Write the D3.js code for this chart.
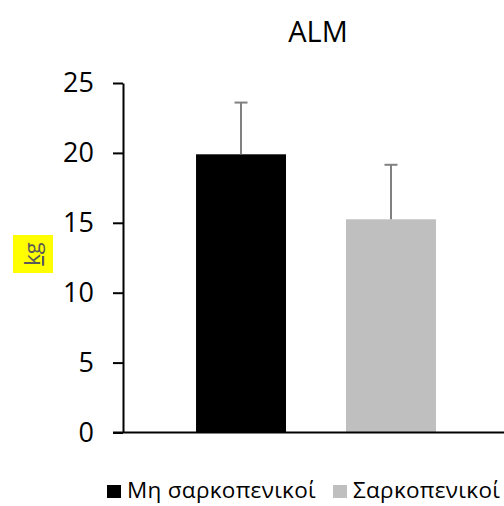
<!DOCTYPE html>
<html>
<head>
<meta charset="utf-8">
<script src="https://cdn.jsdelivr.net/npm/d3@7"></script>
<style>
  html, body { margin: 0; padding: 0; background: #fff; }
  svg { display: block; font-family: "Open Sans", "Noto Sans", sans-serif; }
</style>
</head>
<body>
<svg id="chart" width="504" height="506"></svg>
<script>
// ALM (appendicular lean mass), mean + SD, by group
const title = "ALM";
const groups = ["Μη σαρκοπενικοί", "Σαρκοπενικοί"];
const means = [19.9, 15.25];
const sds = [3.7, 3.9];
const colors = ["#000000", "#bfbfbf"];
const yTicks = [0, 5, 10, 15, 20, 25];
const yLabel = "kg";

const svg = d3.select("#chart");
const plot = { left: 123, right: 509, top: 83, bottom: 432.5 };

const x = d3.scaleBand()
  .domain(groups)
  .range([plot.left, plot.right])
  .paddingInner(0.4)
  .paddingOuter(0.487);

const y = d3.scaleLinear()
  .domain([0, 25])
  .range([plot.bottom, plot.top]);

// title
svg.append("text")
  .attr("x", 318).attr("y", 42)
  .attr("text-anchor", "middle")
  .attr("font-size", 29)
  .attr("fill", "#000")
  .text(title);

// y axis
const yAxis = svg.append("g")
  .attr("transform", `translate(${plot.left},0)`)
  .call(d3.axisLeft(y).tickValues(yTicks).tickSize(10).tickPadding(19).tickSizeOuter(0));
yAxis.select(".domain").attr("stroke", "#000").attr("stroke-width", 2);
yAxis.selectAll(".tick line").attr("stroke", "#000").attr("stroke-width", 2);
yAxis.selectAll(".tick text")
  .attr("font-size", 27)
  .attr("fill", "#000")
  .attr("font-family", "Open Sans, sans-serif");

// bars
svg.append("g").selectAll("rect")
  .data(groups)
  .join("rect")
  .attr("x", d => x(d))
  .attr("width", x.bandwidth())
  .attr("y", (d, i) => y(means[i]))
  .attr("height", (d, i) => y(0) - y(means[i]))
  .attr("fill", (d, i) => colors[i]);

// upper error bars
const eb = svg.append("g").attr("stroke", "#808080").attr("stroke-width", 2);
groups.forEach((g, i) => {
  const cx = x(g) + x.bandwidth() / 2;
  eb.append("line")
    .attr("x1", cx).attr("x2", cx)
    .attr("y1", y(means[i])).attr("y2", y(means[i] + sds[i]));
  eb.append("line")
    .attr("x1", cx - 6.5).attr("x2", cx + 6.5)
    .attr("y1", y(means[i] + sds[i])).attr("y2", y(means[i] + sds[i]));
});

// x axis baseline
svg.append("line")
  .attr("x1", plot.left - 10).attr("x2", plot.right)
  .attr("y1", y(0)).attr("y2", y(0))
  .attr("stroke", "#000").attr("stroke-width", 2);

// y axis title with highlight
const lab = svg.append("g").attr("transform", "translate(33,254) rotate(-90)");
lab.append("rect")
  .attr("x", -19).attr("y", -20)
  .attr("width", 38).attr("height", 40)
  .attr("fill", "#ffff00");
lab.append("text")
  .attr("x", 0).attr("y", 7)
  .attr("text-anchor", "middle")
  .attr("font-size", 22)
  .attr("fill", "#595959")
  .attr("text-decoration", "underline")
  .text(yLabel);

// legend
const legendX = [107, 333];
const legend = svg.append("g");
groups.forEach((g, i) => {
  legend.append("rect")
    .attr("x", legendX[i]).attr("y", 485)
    .attr("width", 14).attr("height", 13)
    .attr("fill", colors[i]);
  legend.append("text")
    .attr("x", legendX[i] + 20).attr("y", 498)
    .attr("font-size", 22.5)
    .attr("letter-spacing", 0.3)
    .attr("fill", "#000")
    .text(g);
});
</script>
</body>
</html>
